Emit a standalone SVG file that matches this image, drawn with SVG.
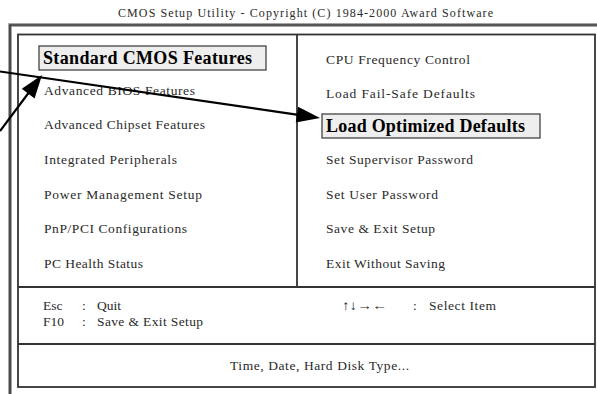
<svg xmlns="http://www.w3.org/2000/svg" width="597" height="394" viewBox="0 0 597 394">
<defs>
<style>
.t{font-family:"Liberation Serif","Times New Roman",serif;font-size:13.5px;fill:#2a2a2a}
.b{font-family:"Liberation Serif","Times New Roman",serif;font-size:18px;font-weight:bold;fill:#000}
.frame{fill:none;stroke:#333;stroke-width:1.8}
.hl{fill:#eeeeee;stroke:#444;stroke-width:1.3}
.arrow{stroke:#000;stroke-width:2.2;fill:none}
.head{fill:#000}
</style>
</defs>
<rect width="597" height="394" fill="#fff"/>
<text class="t" x="118" y="17" style="font-size:12px" textLength="375" lengthAdjust="spacing">CMOS Setup Utility - Copyright (C) 1984-2000 Award Software</text>
<g id="frame">
<path d="M10,394 V25 H597" fill="none" stroke="#888" stroke-width="3.5"/>
<path d="M10,394 V25 H597" fill="none" stroke="#222" stroke-width="1.2"/>
<rect class="frame" x="18" y="34.5" width="577" height="352.5"/>
<line class="frame" x1="297" y1="34.5" x2="297" y2="287"/>
<line class="frame" x1="18" y1="287" x2="595" y2="287"/>
<line class="frame" x1="18" y1="344" x2="595" y2="344"/>
</g>
<g id="n-standard"><rect class="hl" x="39" y="46" width="227" height="24"/><text class="b" x="43" y="64" textLength="209" lengthAdjust="spacing">Standard CMOS Features</text></g>
<g id="n-bios"><text class="t" x="44" y="95" textLength="151" lengthAdjust="spacing">Advanced BIOS Features</text></g>
<g id="n-chipset"><text class="t" x="44" y="129" textLength="161" lengthAdjust="spacing">Advanced Chipset Features</text></g>
<g id="n-integrated"><text class="t" x="44" y="164" textLength="133" lengthAdjust="spacing">Integrated Peripherals</text></g>
<g id="n-power"><text class="t" x="44" y="199" textLength="158" lengthAdjust="spacing">Power Management Setup</text></g>
<g id="n-pnp"><text class="t" x="44" y="233" textLength="143" lengthAdjust="spacing">PnP/PCI Configurations</text></g>
<g id="n-health"><text class="t" x="44" y="268" textLength="99" lengthAdjust="spacing">PC Health Status</text></g>
<g id="n-cpu"><text class="t" x="326" y="64" textLength="144" lengthAdjust="spacing">CPU Frequency Control</text></g>
<g id="n-failsafe"><text class="t" x="326" y="98" textLength="149" lengthAdjust="spacing">Load Fail-Safe Defaults</text></g>
<g id="n-optimized"><rect class="hl" x="322" y="114" width="218" height="24"/><text class="b" x="326" y="132" textLength="199" lengthAdjust="spacing">Load Optimized Defaults</text></g>
<g id="n-supervisor"><text class="t" x="326" y="164" textLength="147" lengthAdjust="spacing">Set Supervisor Password</text></g>
<g id="n-user"><text class="t" x="326" y="199" textLength="112" lengthAdjust="spacing">Set User Password</text></g>
<g id="n-saveexit"><text class="t" x="326" y="233" textLength="109" lengthAdjust="spacing">Save &amp; Exit Setup</text></g>
<g id="n-exitnosave"><text class="t" x="326" y="268" textLength="119" lengthAdjust="spacing">Exit Without Saving</text></g>
<g id="n-keys">
<text class="t" x="43" y="310">Esc</text><text class="t" x="82" y="310">:</text><text class="t" x="97" y="310">Quit</text>
<text class="t" x="43" y="326">F10</text><text class="t" x="82" y="326">:</text><text class="t" x="97" y="326" textLength="106" lengthAdjust="spacing">Save &amp; Exit Setup</text>
<text class="t" x="342" y="310" textLength="45" lengthAdjust="spacingAndGlyphs">↑↓→←</text><text class="t" x="413" y="310">:</text><text class="t" x="429" y="310" textLength="67" lengthAdjust="spacing">Select Item</text>
</g>
<g id="n-help"><text class="t" x="230" y="370" textLength="179" lengthAdjust="spacing">Time, Date, Hard Disk Type...</text></g>
<g id="connectors">
<line class="arrow" x1="0" y1="71.5" x2="300" y2="115.1"/>
<polygon class="head" points="320,118 295.8,122.6 298.1,106.8"/>
<line class="arrow" x1="0" y1="131" x2="30" y2="91"/>
<polygon class="head" points="42,75 34.6,98.4 21.8,88.8"/>
</g>
</svg>
